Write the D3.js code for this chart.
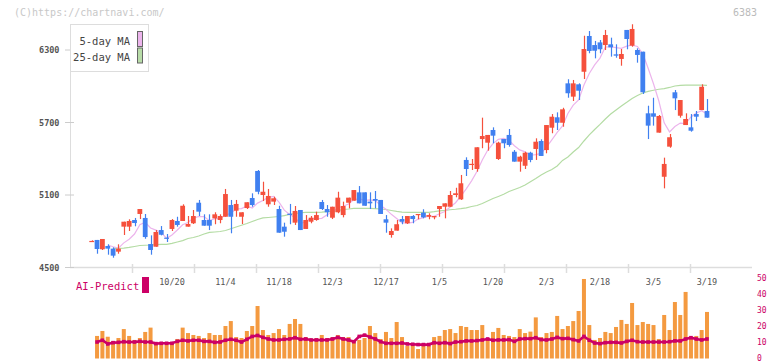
<!DOCTYPE html>
<html>
<head>
<meta charset="utf-8">
<script src="https://cdn.jsdelivr.net/npm/d3@7"></script>
<style>
  body { margin: 0; background: #fff; }
  svg { display: block; }
</style>
</head>
<body>
<div id="chart"></div>
<script>
// trading days shown on the chart
var dates = ["9/26","9/29","9/30","10/1","10/2","10/3","10/6","10/7","10/8","10/9",
  "10/10","10/14","10/15","10/16","10/17","10/20","10/21","10/22","10/23","10/24",
  "10/27","10/28","10/29","10/30","10/31","11/4","11/5","11/6","11/7","11/10",
  "11/11","11/12","11/13","11/14","11/17","11/18","11/19","11/20","11/21","11/25",
  "11/26","11/27","11/28","12/1","12/2","12/3","12/4","12/5","12/8","12/9",
  "12/10","12/11","12/12","12/15","12/16","12/17","12/18","12/19","12/22","12/23",
  "12/24","12/25","12/26","12/29","12/30","1/5","1/6","1/7","1/8","1/9",
  "1/13","1/14","1/15","1/16","1/19","1/20","1/21","1/22","1/23","1/26",
  "1/27","1/28","1/29","1/30","2/2","2/3","2/4","2/5","2/6","2/9",
  "2/10","2/12","2/13","2/16","2/17","2/18","2/19","2/20","2/24","2/25",
  "2/26","2/27","3/2","3/3","3/4","3/5","3/6","3/9","3/10","3/11",
  "3/12","3/13","3/16","3/17","3/18","3/19"];

var labelDates = ["10/20","11/4","11/18","12/3","12/17","1/5","1/20","2/3","2/18","3/5","3/19"];

var openP = [4715,4728,4651,4678,4656,4631,4838,4838,4893,4943,
  4910,4694,4672,4810,4747,4819,4885,4885,4838,4866,
  5036,4893,4893,4907,4893,4920,5017,4970,4920,4992,
  5075,5299,5100,5023,5045,4984,4838,4945,4871,4976,
  4819,4879,4893,5042,4984,4912,4957,4934,5036,5053,
  5122,5122,5045,5067,5059,4899,4769,4805,4901,4866,
  4926,4937,4954,4920,4915,4984,5003,5003,5100,5064,
  5390,5352,5315,5563,5533,5638,5398,5563,5597,5458,
  5376,5342,5450,5481,5547,5472,5657,5743,5698,6024,
  5914,6016,6120,6416,6341,6363,6341,6347,6264,6226,
  6466,6336,6300,6286,5776,5776,5616,5251,5500,5950,
  5756,5679,5660,5770,5803,5795];
var highP = [4725,4728,4736,4692,4667,4692,4879,4899,4910,4984,
  4943,4766,4810,4843,4777,4901,4920,5023,4926,4976,
  5059,4940,4940,4957,4940,5150,5059,5059,4957,5040,
  5114,5307,5210,5150,5086,5011,4871,5026,5009,4976,
  4934,4926,4962,5059,5017,5003,5127,5045,5078,5141,
  5174,5122,5122,5133,5059,4934,4824,4893,4926,4926,
  4934,4943,4982,4949,4926,5009,5031,5133,5160,5266,
  5412,5398,5495,5740,5597,5660,5541,5563,5646,5472,
  5425,5458,5458,5569,5561,5679,5770,5784,5822,6058,
  6052,6024,6418,6457,6375,6383,6466,6402,6347,6308,
  6466,6513,6314,6286,5839,5905,5762,5409,5605,5969,
  5886,5776,5770,5795,6016,5894];
var lowP = [4712,4614,4645,4606,4581,4614,4769,4802,4841,4901,
  4738,4606,4672,4766,4711,4802,4838,4885,4838,4860,
  4926,4846,4810,4858,4866,4920,4783,4920,4860,4984,
  5003,5106,5050,5003,5017,4788,4755,4858,4852,4810,
  4819,4866,4887,4976,4920,4901,4949,4915,4990,5053,
  5031,5011,4984,4990,4943,4788,4747,4805,4858,4860,
  4866,4899,4907,4899,4899,4920,4907,5003,5081,5059,
  5257,5307,5293,5487,5467,5528,5390,5487,5500,5376,
  5293,5315,5371,5390,5423,5445,5611,5638,5665,5905,
  5878,5886,6060,6273,6231,6273,6300,6245,6236,6170,
  6306,6327,6195,5936,5563,5674,5616,5155,5491,5803,
  5740,5679,5624,5712,5803,5740];
var closeP = [4720,4653,4736,4656,4598,4656,4879,4885,4868,4984,
  4752,4645,4794,4771,4742,4893,4852,5011,4860,4926,
  4962,4846,4846,4940,4926,5108,4920,5026,4957,5040,
  5017,5127,5127,5092,5073,4788,4796,4940,4968,4810,
  4893,4912,4934,4984,4957,5003,5078,5009,5078,5141,
  5031,5011,5031,5053,4943,4871,4802,4858,4879,4926,
  4901,4943,4915,4934,4926,5009,5031,5100,5114,5197,
  5315,5358,5495,5588,5597,5591,5533,5528,5514,5376,
  5417,5450,5390,5541,5423,5679,5748,5698,5809,5942,
  6024,5963,6308,6292,6294,6306,6424,6322,6253,6267,
  6391,6474,6259,5950,5674,5748,5754,5357,5578,5900,
  5886,5729,5632,5748,5996,5740];

var ma5 = [null,null,null,4686,4672,4660,4704,4734,4777,4854,
  4874,4827,4809,4790,4741,4769,4810,4854,4872,4909,
  4922,4921,4888,4904,4904,4934,4949,4984,4987,5010,
  4992,5033,5054,5081,5088,5041,4975,4939,4914,4861,
  4882,4906,4904,4907,4936,4959,4992,5007,5025,5062,
  5068,5055,5059,5054,5014,4982,4940,4906,4871,4867,
  4873,4901,4913,4924,4924,4945,4963,5000,5036,5090,
  5151,5217,5295,5390,5470,5525,5561,5568,5553,5508,
  5473,5457,5429,5434,5444,5496,5556,5618,5672,5775,
  5844,5887,6010,6106,6177,6233,6325,6327,6320,6314,
  6332,6341,6329,6268,6149,6021,5878,5697,5622,5667,
  5695,5690,5746,5779,5798,5769];
var ma25 = [null,null,null,null,4659,4659,4661,4666,4674,4682,
  4684,4686,4690,4692,4692,4699,4711,4723,4740,4748,
  4761,4777,4790,4794,4798,4806,4821,4835,4850,4864,
  4881,4897,4910,4914,4918,4922,4930,4939,4947,4953,
  4957,4957,4957,4959,4962,4963,4972,4980,4984,4990,
  4990,4990,4990,4988,4984,4980,4972,4965,4959,4957,
  4957,4957,4957,4957,4962,4969,4973,4978,4982,4987,
  4994,5005,5013,5030,5050,5071,5088,5106,5129,5146,
  5162,5183,5210,5237,5266,5290,5311,5340,5386,5415,
  5456,5493,5547,5597,5642,5684,5729,5770,5804,5837,
  5867,5899,5923,5944,5957,5967,5975,5981,5990,6002,
  6008,6010,6010,6010,6010,6008];

var volume = [null,14.1,17.2,13.6,10.9,12.8,18.4,14.1,11.6,12.8,
  16.6,19.3,10.1,9.9,9.9,9.9,12.2,19.3,15.9,14.7,
  14.1,12.8,15.9,14.7,14.7,20.3,23.4,13.4,12.8,17.2,
  20.3,32.8,17.8,14.7,15.9,18.4,14.7,21.6,24.7,21.6,
  13.4,12.2,12.8,14.7,12.8,13.4,14.7,13.4,13.4,10.3,
  11.6,12.8,20.3,15.9,12.2,16.6,12.8,22.8,13.4,7.8,
  8.4,5.9,7.8,7.8,13.4,14.1,17.8,18.4,15.9,20.3,
  19.7,17.8,17.8,20.9,12.8,16.6,19.1,14.7,14.1,13.4,
  18.4,15.9,16.8,25.7,13.4,15.9,16.6,26.6,18.4,20.3,
  23.4,29.7,49.7,20.9,11.6,12.8,16.6,15.9,19.7,24.1,
  21.6,34.7,20.9,22.8,21.6,20.9,12.2,27.2,17.8,35.3,
  27.2,41.6,13.4,14.1,17.8,29.1];
var aiPredict = [null,10.3,11.4,9.1,9.9,10.1,10.5,10.3,10.3,10.7,
  10.3,10.3,9.3,9.5,9.5,9.5,10.7,11.4,11.0,11.4,
  11.4,10.7,10.7,10.1,10.3,11.4,12.0,11.4,10.3,12.0,
  13.8,14.4,13.2,12.2,11.6,11.6,12.0,12.2,13.0,12.0,
  12.2,11.6,11.6,11.6,11.6,12.2,13.2,12.2,11.6,10.5,
  13.8,14.6,13.4,12.2,10.5,9.5,9.5,9.5,9.7,9.1,
  8.9,8.7,8.7,8.7,9.9,9.5,9.9,9.3,10.3,10.5,
  11.0,11.0,11.2,11.6,12.2,11.4,11.6,11.6,11.8,10.7,
  12.2,12.4,12.4,13.0,11.8,11.6,12.2,13.2,12.4,12.6,
  11.8,11.0,13.8,11.4,9.7,9.3,9.9,10.1,10.1,9.7,
  10.7,11.4,10.5,10.3,10.3,10.3,10.3,10.3,10.5,11.0,
  11.0,12.2,13.0,12.2,11.6,12.2];

var priceTicks = [4500, 5100, 5700, 6300];
var volumeTicks = [0, 10, 20, 30, 40, 50];

var upColor = "#f5503c", downColor = "#4080f0";
var mono = "'DejaVu Sans Mono', 'Liberation Mono', monospace";

var svg = d3.select("#chart").append("svg")
  .attr("width", 772).attr("height", 361);

var x = d3.scaleLinear().domain([0, dates.length - 1]).range([91.7, 707]);
var y = d3.scaleLinear().domain([4500, 6300]).range([267.5, 50]);
var vy = d3.scaleLinear().domain([0, 50]).range([358.5, 278.5]);
// the frame ticks split the axis in 11 parts, independent of the dates
var grid = d3.scaleLinear().domain([0, 11]).range([70, 752]);

// days that have a volume / AI value (the first day has none)
var withVolume = d3.range(dates.length).filter(function (i) { return volume[i] !== null; });

// watermark and code
svg.append("text").attr("x", 14).attr("y", 16).text("(C)https://chartnavi.com/")
  .style("font-family", mono).style("font-size", "10px").style("fill", "#c8c8c8");
svg.append("text").attr("x", 757).attr("y", 16).attr("text-anchor", "end").text("6383")
  .style("font-family", mono).style("font-size", "10px").style("fill", "#bbb");

// axes
svg.append("line").attr("x1", 70.5).attr("x2", 70.5).attr("y1", 24).attr("y2", 268)
  .style("stroke", "#ddd");
svg.append("line").attr("x1", 70).attr("x2", 752).attr("y1", 267.5).attr("y2", 267.5)
  .style("stroke", "#ddd").style("stroke-width", 1.5);

svg.selectAll(".gtick").data(d3.range(1, 11)).enter().append("line")
  .attr("x1", function (d) { return Math.round(grid(d)) + 0.5; })
  .attr("x2", function (d) { return Math.round(grid(d)) + 0.5; })
  .attr("y1", 264).attr("y2", 273)
  .style("stroke", "#ddd").style("stroke-width", 1.5);

svg.selectAll(".ytick").data(priceTicks).enter().append("line")
  .attr("x1", 65).attr("x2", 74)
  .attr("y1", function (d) { return y(d); }).attr("y2", function (d) { return y(d); })
  .style("stroke", "#ccc");

svg.selectAll(".ylabel").data(priceTicks).enter().append("text")
  .attr("x", 59.5).attr("y", function (d) { return y(d) + 3; })
  .attr("text-anchor", "end").text(function (d) { return d; })
  .style("font-family", mono).style("font-size", "8.5px").style("fill", "#555")
  .style("font-weight", "bold");

svg.selectAll(".xlabel").data(labelDates).enter().append("text")
  .attr("x", function (d) { return x(dates.indexOf(d)); }).attr("y", 285)
  .attr("text-anchor", "middle").text(function (d) { return d; })
  .style("font-family", mono).style("font-size", "8.5px").style("fill", "#555");

// moving averages
function maLine(values) {
  return d3.line()
    .defined(function (d) { return d !== null; })
    .x(function (d, i) { return x(i); })
    .y(function (d) { return y(d); })(values);
}
svg.append("path").attr("d", maLine(ma25))
  .style("fill", "none").style("stroke", "#b4dca4").style("stroke-width", 1.2);
svg.append("path").attr("d", maLine(ma5))
  .style("fill", "none").style("stroke", "#ecb4ec").style("stroke-width", 1.2);

// candles
var candles = svg.selectAll(".candle").data(dates).enter().append("g");
candles.append("line")
  .attr("x1", function (d, i) { return Math.round(x(i)) + 0.5; })
  .attr("x2", function (d, i) { return Math.round(x(i)) + 0.5; })
  .attr("y1", function (d, i) { return y(highP[i]); })
  .attr("y2", function (d, i) { return y(lowP[i]); })
  .style("stroke", function (d, i) { return closeP[i] >= openP[i] ? upColor : downColor; })
  .style("stroke-width", 1.2);
candles.append("rect")
  .attr("x", function (d, i) { return x(i) - 2.4; })
  .attr("width", 4.8)
  .attr("y", function (d, i) { return y(Math.max(openP[i], closeP[i])); })
  .attr("height", function (d, i) {
    return Math.max(1.2, Math.abs(y(openP[i]) - y(closeP[i])));
  })
  .style("fill", function (d, i) { return closeP[i] >= openP[i] ? upColor : downColor; });

// legend
svg.append("rect").attr("x", 70.5).attr("y", 24.5).attr("width", 78).attr("height", 47)
  .style("fill", "#fff").style("stroke", "#ddd");
var legendKeys = ["5-day MA", "25-day MA"];
var legendColors = ["#ecb4ec", "#b8dca8"];
svg.selectAll(".lgtext").data(legendKeys).enter().append("text")
  .attr("x", 130).attr("y", function (d, i) { return 44.5 + i * 16.5; })
  .attr("text-anchor", "end").text(function (d) { return d; })
  .style("font-family", mono).style("font-size", "10.5px").style("fill", "#444");
svg.selectAll(".lgbox").data(legendColors).enter().append("rect")
  .attr("x", 137.5).attr("y", function (d, i) { return 31.5 + i * 16.5; })
  .attr("width", 5).attr("height", 15)
  .style("fill", function (d) { return d; }).style("stroke", "#666");

// volume
svg.append("g").selectAll("rect").data(withVolume).enter().append("rect")
  .attr("x", function (i) { return x(i) - 2; })
  .attr("width", 4)
  .attr("y", function (i) { return vy(volume[i]); })
  .attr("height", function (i) { return vy(0) - vy(volume[i]); })
  .style("fill", "#f49a40");

// AI-Predict
var aiLine = d3.line()
  .defined(function (d) { return d !== null; })
  .x(function (d, i) { return x(i); })
  .y(function (d) { return vy(d); });
svg.append("path").attr("d", aiLine(aiPredict))
  .style("fill", "none").style("stroke", "#cc0066").style("stroke-width", 2.6);
svg.append("g").selectAll("rect").data(withVolume).enter().append("rect")
  .attr("x", function (i) { return x(i) - 1.8; })
  .attr("y", function (i) { return vy(aiPredict[i]) - 1.8; })
  .attr("width", 3.6).attr("height", 3.6)
  .style("fill", "#cc0066");

svg.append("text").attr("x", 76).attr("y", 290).text("AI-Predict")
  .style("font-family", mono).style("font-size", "10.5px").style("fill", "#cc0066");
svg.append("rect").attr("x", 142).attr("y", 277).attr("width", 7).attr("height", 16)
  .style("fill", "#cc0066");

svg.selectAll(".vlabel").data(volumeTicks).enter().append("text")
  .attr("x", 757).attr("y", function (d) { return vy(d) + 2; })
  .text(function (d) { return d; })
  .style("font-family", mono).style("font-size", "8px").style("fill", "#cc0066");
</script>
</body>
</html>
